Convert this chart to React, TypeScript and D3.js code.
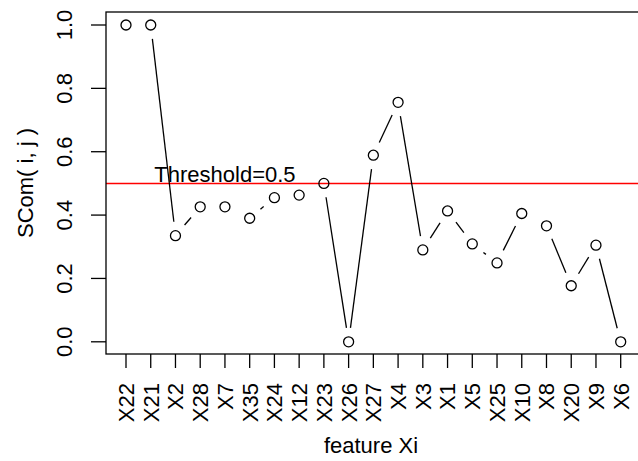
import React from 'react';
import {scaleLinear, scalePoint} from 'd3';

// features in plotted order and their SCom values
const features = ['X22', 'X21', 'X2', 'X28', 'X7', 'X35', 'X24', 'X12', 'X23', 'X26', 'X27',
  'X4', 'X3', 'X1', 'X5', 'X25', 'X10', 'X8', 'X20', 'X9', 'X6'];
const scom = [1.0, 1.0, 0.335, 0.426, 0.426, 0.39, 0.455, 0.463, 0.5, 0.0, 0.589,
  0.756, 0.29, 0.413, 0.309, 0.249, 0.405, 0.366, 0.177, 0.305, 0.0];
const yTicks = [0, 0.2, 0.4, 0.6, 0.8, 1.0];
const threshold = 0.5;

const W = 638;
const H = 461;
const FONT = '"Liberation Sans", Arial, Helvetica, sans-serif';

const App = () => {
  const box = {left: 106, top: 12, right: 641, bottom: 354};

  const x = scalePoint<string>().domain(features).range([126, 620.7]);
  const y = scaleLinear().domain([0, 1]).range([341.8, 25]);

  const pts = features.map((f, i) => ({f, xv: x(f) as number, yv: y(scom[i])}));

  //type "b" style: segments with a gap around each point
  const gap = 14;
  const segs = [];
  for (let i = 0; i < pts.length - 1; i++) {
    const a = pts[i], b = pts[i + 1];
    const dx = b.xv - a.xv, dy = b.yv - a.yv;
    const d = Math.sqrt(dx * dx + dy * dy);
    if (d <= 2 * gap) continue;
    const ux = dx / d, uy = dy / d;
    segs.push({
      x1: a.xv + ux * gap, y1: a.yv + uy * gap,
      x2: b.xv - ux * gap, y2: b.yv - uy * gap,
      key: i
    });
  }

  const ty = Math.floor(y(threshold)) + 0.5;

  return (
    <svg width={W} height={H} style={{position: 'absolute', left: 0, top: 0, background: '#fff'}}
      fontFamily={FONT}>
      <rect x={0} y={0} width={W} height={H} fill='#fff'/>
      <line x1={box.left} x2={box.right} y1={ty} y2={ty} stroke='#ff0000' strokeWidth={1.5}/>
      <text x={x('X7')} y={y(threshold) - 1.5} fontSize={22} textAnchor='middle' fill='#000'>Threshold=0.5</text>

      {segs.map(s => (
        <line key={s.key} x1={s.x1} y1={s.y1} x2={s.x2} y2={s.y2} stroke='#000' strokeWidth={1.3}/>
      ))}
      {pts.map(p => (
        <circle key={p.f} cx={p.xv} cy={p.yv} r={5} fill='none' stroke='#000' strokeWidth={1.3}/>
      ))}

      <rect x={box.left} y={box.top} width={box.right - box.left} height={box.bottom - box.top}
        fill='none' stroke='#000' strokeWidth={1.3}/>

      {/* y axis */}
      {yTicks.map(t => (
        <g key={t}>
          <line x1={91} x2={box.left} y1={y(t)} y2={y(t)} stroke='#000' strokeWidth={1.3}/>
          <text transform={`translate(72,${y(t)}) rotate(-90)`} textAnchor='middle' fontSize={22}>
            {t.toFixed(1)}
          </text>
        </g>
      ))}

      {/* x axis */}
      {features.map(f => (
        <g key={f}>
          <line x1={x(f)} x2={x(f)} y1={box.bottom} y2={368} stroke='#000' strokeWidth={1.3}/>
          <text transform={`translate(${x(f)},383) rotate(-90)`} textAnchor='end' dy='0.36em' fontSize={22}>
            {f}
          </text>
        </g>
      ))}

      <text x={371} y={453} textAnchor='middle' fontSize={22}>feature Xi</text>
      <text transform='translate(33,183) rotate(-90)' textAnchor='middle' fontSize={22}>SCom( i, j )</text>
    </svg>
  );
};

export default App;
